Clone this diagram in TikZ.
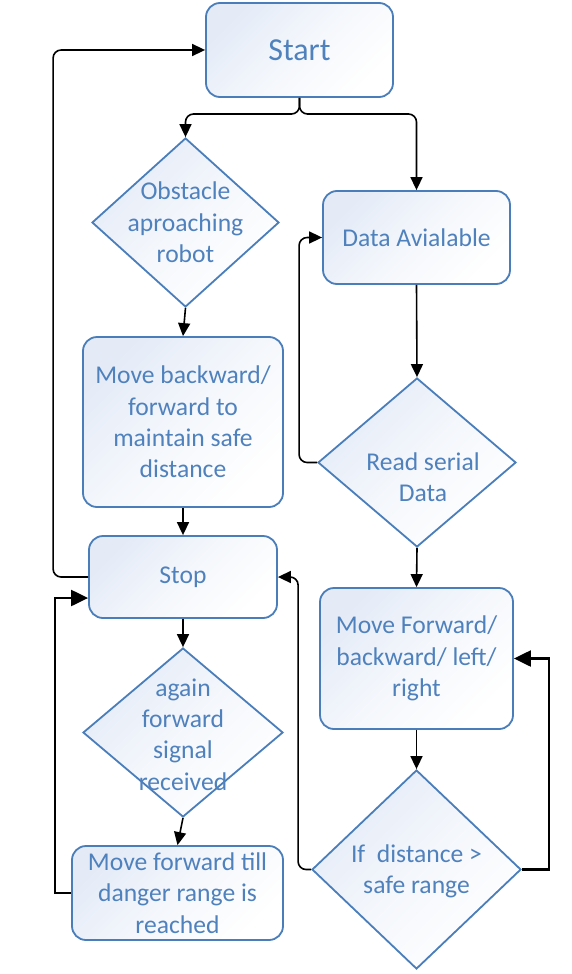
\documentclass[tikz,border=0pt]{standalone}
\usepackage{fontspec}
\setmainfont{Carlito}
\usepackage{tikz}
\usetikzlibrary{shapes.geometric,arrows.meta}
\definecolor{boxline}{HTML}{4A7EBB}
\definecolor{boxtext}{HTML}{4F81BD}
\definecolor{boxfill}{HTML}{E4EBF7}

\begin{document}
\begin{tikzpicture}[x=1pt,y=-1pt,
  box/.style={draw=boxline, line width=1.8pt, rounded corners=14pt, top color=boxfill, bottom color=white, middle color=white!60!boxfill, shading angle=45, text=boxtext, align=center, inner sep=0pt, font=\fontsize{25.6pt}{31.3pt}\selectfont},
  decision/.style={diamond, draw=boxline, line width=1.8pt, top color=boxfill, bottom color=white, middle color=white!60!boxfill, shading angle=45, inner sep=0pt},
  dtext/.style={text=boxtext, align=center, font=\fontsize{25.6pt}{31.3pt}\selectfont},
  flow/.style={line width=1.6pt, rounded corners=8pt, -{Triangle[length=13pt,width=12pt]}},
  bigflow/.style={line width=2.2pt, -{Triangle[length=17pt,width=16pt]}}]
\useasboundingbox (0,0) rectangle (572,974);

\node[box, minimum width=187pt, minimum height=94pt, font=\fontsize{32pt}{38pt}\selectfont] (Start) at (299.5,50) {Start};
\node[decision, minimum width=187pt, minimum height=169pt, label={[dtext]center:Obstacle\\aproaching\\robot}] (Obst) at (185.5,222.5) {};
\node[box, minimum width=187pt, minimum height=93pt] (Data) at (416.5,237.5) {Data Avialable};
\node[box, minimum width=200pt, minimum height=170pt] (Back) at (183,422) {Move backward/\\forward to\\maintain safe\\distance};
\node[decision, minimum width=198pt, minimum height=169pt, label={[dtext, xshift=6pt, yshift=-15pt]center:Read serial\\Data}] (Read) at (417,462.5) {};
\node[box, minimum width=188pt, minimum height=82pt] (Stop) at (183,577) {\raisebox{-3pt}{Stop}};
\node[box, minimum width=193pt, minimum height=141pt] (Fwd) at (416.5,658.5) {Move Forward/\\backward/ left/\\right};
\node[decision, minimum width=200pt, minimum height=169pt, label={[dtext, yshift=-2pt]center:again\\forward\\signal\\received}] (Again) at (183,732.5) {};
\node[box, minimum width=211pt, minimum height=94pt] (Till) at (177.5,893) {Move forward till\\danger range is\\reached};
\node[decision, minimum width=209pt, minimum height=199pt, label={[dtext, yshift=-2pt]center:If\ \ distance >\\safe range}] (If) at (416.5,869.5) {};
\coordinate (fork) at (299.5,114);

% main flow
\draw[flow] (Start.south) -- (fork) -| (Obst.north);
\draw[flow] (Start.south) -- (fork) -| (Data.north);
\draw[flow] (Obst.south) -- (Back.north);
\draw[flow] (Back.south) -- (Stop.north);
\draw[flow] (Stop.south) -- (Again.north);
\draw[flow] (Again.south) -- (Till.north);
\draw[flow] (Data.south) -- (Read.north);
\draw[flow] (Read.south) -- (Fwd.north);
\draw[flow] (Fwd.south) -- (If.north);

% loops
\draw[flow] (Stop.west) -- ++(-35,0) |- (Start.west);
\draw[bigflow] (Till.west) -- ++(-16,0) |- ([yshift=-21pt]Stop.west);
\draw[flow] (Read.west) -- ++(-18,0) |- (Data.west);
\draw[flow] (If.west) -- ++(-13,0) |- (Stop.east);
\draw[bigflow] (If.east) -- ++(27,0) |- (Fwd.east);
\end{tikzpicture}
\end{document}
